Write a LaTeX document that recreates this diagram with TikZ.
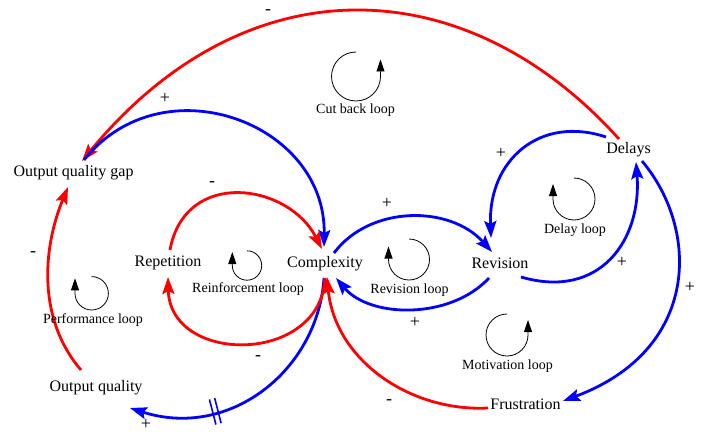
\documentclass[tikz,border=0pt]{standalone}
\usepackage{fontspec}
\setmainfont{Liberation Serif}
\usetikzlibrary{arrows.meta,decorations.markings}
\begin{document}
\begin{tikzpicture}[x=1pt,y=-1pt,
  var/.style={font=\fontsize{16}{19}\selectfont, inner sep=0pt},
  looplab/.style={font=\fontsize{14}{16}\selectfont, inner sep=0pt},
  sgn/.style={font=\fontsize{18}{20}\selectfont, inner sep=0pt, text height=0.5em, text depth=0pt},
  lnk/.style={line width=2.8pt, -{Stealth[length=17pt,width=12pt,inset=3pt]}},
  poslink/.style={lnk, blue},
  neglink/.style={lnk, red},
  loopsym/.style={line width=0.8pt, -{Triangle[length=12pt,width=8pt]}},
  delaymark/.style={postaction={decorate}, decoration={markings, mark=at position #1 with {\draw[blue,line width=1.6pt,-] (-2.7,-13) -- (-2.7,13) (2.7,-13) -- (2.7,13);}}}
]
\useasboundingbox (0,0) rectangle (706,433);

% variables
\node[var] (gap) at (73.5,173) {Output quality gap};
\node[var] (rep) at (168,263) {Repetition};
\node[var] (cx)  at (325,264) {Complexity};
\node[var] (rev) at (500,263) {Revision};
\node[var] (del) at (628.5,150) {Delays};
\node[var] (oq)  at (96,388) {Output quality};
\node[var] (fr)  at (525.5,404) {Frustration};

% links
\draw[neglink] ([shift={(-9.5,-11)}]del.center) .. controls +(-153,-170) and +(165,-200) .. ([shift={(8.5,-12)}]gap.center);
\draw[poslink] ([shift={(-22.5,-13)}]del.center) .. controls +(-66,-22) and +(-3,-78) .. ([shift={(-9,-25)}]rev.center);
\draw[poslink] ([shift={(21,14)}]rev.center) .. controls +(79,23) and +(6,78) .. ([shift={(7.5,12)}]del.center);
\draw[poslink] ([shift={(13.5,11)}]del.center) .. controls +(58,69) and +(137,-51) .. ([shift={(37.5,-3)}]fr.center);
\draw[neglink] ([shift={(-37.5,4)}]fr.center) .. controls +(-78,4) and +(8,83) .. ([shift={(2,13)}]cx.center);
\draw[poslink, delaymark=0.68] ([shift={(-1,14)}]cx.center) .. controls +(-6,92) and +(100,32) .. ([shift={(34,20)}]oq.center);
\draw[neglink] ([shift={(-15,-18)}]oq.center) .. controls +(-43,-50) and +(-26,63) .. ([shift={(-5.5,14)}]gap.center);
\draw[poslink] ([shift={(10.5,-13)}]gap.center) .. controls +(78,-98) and +(2,-125) .. ([shift={(-1,-17)}]cx.center);
\draw[neglink] ([shift={(2,-13)}]rep.center) .. controls +(15,-82) and +(-34,-66) .. ([shift={(-3,-15)}]cx.center);
\draw[neglink] ([shift={(0,14)}]cx.center) .. controls +(-4,87) and +(2,88) .. ([shift={(0,14)}]rep.center);
\draw[poslink] ([shift={(9,-11)}]cx.center) .. controls +(36,-48) and +(-42,-47) .. ([shift={(-8,-11)}]rev.center);
\draw[poslink] ([shift={(-11,15)}]rev.center) .. controls +(-39,42) and +(34,40) .. ([shift={(11,14)}]cx.center);

% signs
\node[sgn] (s1) at (268,12) {-};
\node[sgn] (s2) at (165,101) {+};
\node[sgn] (s3) at (212,184) {-};
\node[sgn] (s4) at (33,254) {-};
\node[sgn] (s5) at (501,156) {+};
\node[sgn] (s6) at (387,206) {+};
\node[sgn] (s7) at (622,265) {+};
\node[sgn] (s8) at (690,290) {+};
\node[sgn] (s9) at (415,325) {+};
\node[sgn] (s10) at (258,358) {-};
\node[sgn] (s11) at (389,402) {-};
\node[sgn] (s12) at (146,427) {+};

% loop symbols
\draw[loopsym] (356,52) arc[start angle=-90, end angle=-360, radius=24.5] -- ++(0,-17);
\draw[loopsym] (507,314) arc[start angle=-90, end angle=-360, radius=21] -- ++(0,-15);
\draw[loopsym] (574,178) arc[start angle=-90, end angle=180, radius=21] -- ++(0,-15);
\draw[loopsym] (409,239) arc[start angle=-90, end angle=180, radius=20.5] -- ++(0,-13);
\draw[loopsym] (247,250.8) arc[start angle=-90, end angle=180, radius=14.7] -- ++(0,-13.5);
\draw[loopsym] (91.7,276.6) arc[start angle=-90, end angle=180, radius=16.7] -- ++(0,-15);

% loop labels
\node[looplab] (l1) at (355.5,110) {Cut back loop};
\node[looplab] (l2) at (575,230) {Delay loop};
\node[looplab] (l3) at (409.5,290) {Revision loop};
\node[looplab] (l4) at (248,289) {Reinforcement loop};
\node[looplab] (l5) at (93,320) {Performance loop};
\node[looplab] (l6) at (507.5,366) {Motivation loop};
\end{tikzpicture}
\end{document}
